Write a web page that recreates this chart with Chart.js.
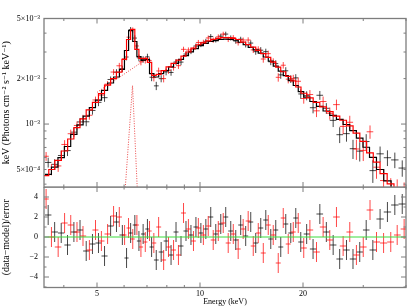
<!DOCTYPE html>
<html><head><meta charset="utf-8"><title>Spectrum</title>
<script src="https://cdn.jsdelivr.net/npm/chart.js@4.4.1/dist/chart.umd.min.js"></script>
<style>
html,body{margin:0;padding:0;background:#fff;overflow:hidden;}
#wrap{position:relative;width:407px;height:308px;background:#fff;}
canvas{position:absolute;left:0;}
#cTop{top:0;}
#cBot{top:187px;}
</style></head><body>
<div id="wrap">
<canvas id="cTop" width="407" height="188"></canvas>
<canvas id="cBot" width="407" height="121"></canvas>
</div>
<script>
// ---- data (keV bin centres, model, fractional 1-sigma error, residual in sigma) ----
const energyBlack = [3.60,3.76,3.93,4.10,4.28,4.46,4.65,4.85,5.05,5.26,5.48,5.70,5.93,6.10,6.27,6.45,6.63,6.82,7.02,7.22,7.45,7.70,7.96,8.23,8.51,8.80,9.10,9.41,9.73,10.06,10.40,10.75,11.12,11.50,11.89,12.30,12.72,13.15,13.60,14.07,14.55,15.05,15.57,16.10,16.65,17.22,17.81,18.42,19.05,19.70,20.5,21.4,22.4,23.4,24.5,25.6,26.8,28.0,29.3,30.6,32.0,33.6,35.3,37.1,39.0];
const modelBlack = [4.65e-4,5.19e-4,6.00e-4,7.10e-4,8.54e-4,9.88e-4,1.13e-3,1.285e-3,1.44e-3,1.67e-3,1.87e-3,2.05e-3,2.30e-3,3.07e-3,4.16e-3,3.52e-3,2.80e-3,2.64e-3,2.68e-3,2.16e-3,2.05e-3,2.16e-3,2.26e-3,2.39e-3,2.52e-3,2.68e-3,2.84e-3,3.00e-3,3.16e-3,3.31e-3,3.42e-3,3.52e-3,3.57e-3,3.63e-3,3.65e-3,3.63e-3,3.59e-3,3.48e-3,3.35e-3,3.22e-3,3.10e-3,2.95e-3,2.78e-3,2.61e-3,2.42e-3,2.24e-3,2.09e-3,1.94e-3,1.80e-3,1.64e-3,1.51e-3,1.41e-3,1.31e-3,1.22e-3,1.14e-3,1.075e-3,9.93e-4,9.06e-4,8.07e-4,7.02e-4,6.01e-4,5.0e-4,4.20e-4,3.60e-4,3.02e-4];
const fracErrBlack = [0.09,0.085,0.08,0.075,0.07,0.065,0.06,0.06,0.055,0.055,0.05,0.05,0.05,0.045,0.04,0.045,0.05,0.05,0.05,0.055,0.055,0.05,0.05,0.045,0.045,0.045,0.04,0.04,0.04,0.04,0.04,0.04,0.04,0.04,0.04,0.04,0.04,0.04,0.045,0.045,0.045,0.05,0.05,0.05,0.055,0.055,0.06,0.06,0.065,0.07,0.07,0.075,0.08,0.085,0.09,0.095,0.10,0.11,0.12,0.13,0.14,0.15,0.17,0.19,0.21];
const residBlack = [2.2,0.5,0.4,-0.8,0.5,0.7,-1.4,-0.7,-0.6,-1.9,1.1,1.5,0.2,-2.1,0.4,1.2,-0.4,0.3,0.8,-1.0,-2.3,-1.5,-0.4,-1.8,0.5,-0.9,0.6,0.2,1.0,0.4,0.8,2.0,0.3,1.3,2.0,0.6,-0.3,1.2,0.1,1.5,-0.6,0.9,1.7,-0.2,0.7,-1.0,1.3,0.4,1.9,-0.5,0.3,-1.2,2.3,0.5,-0.8,-2.2,-1.3,-2.2,-1.5,0.7,-1.3,1.8,2.5,3.2,3.3];

const energyRed = [3.55,3.68,3.85,4.02,4.19,4.37,4.55,4.75,4.95,5.15,5.37,5.59,5.81,6.02,6.18,6.36,6.54,6.72,6.92,7.12,7.33,7.57,7.83,8.09,8.37,8.65,8.95,9.25,9.57,9.89,10.23,10.57,10.93,11.31,11.69,12.09,12.51,12.93,13.37,13.83,14.31,14.80,15.31,15.83,16.37,16.93,17.51,18.11,18.73,19.37,20.1,20.95,21.9,22.9,23.95,25.05,26.2,27.4,28.65,30.0,31.4,32.8,34.4,36.1,37.7,39.5];
const modelRed = [4.56e-4,5.0e-4,5.74e-4,6.63e-4,7.96e-4,9.48e-4,1.08e-3,1.24e-3,1.39e-3,1.59e-3,1.81e-3,2.00e-3,2.21e-3,2.68e-3,3.63e-3,4.23e-3,3.12e-3,2.72e-3,2.72e-3,2.56e-3,2.10e-3,2.13e-3,2.26e-3,2.39e-3,2.52e-3,2.65e-3,2.82e-3,3.00e-3,3.18e-3,3.35e-3,3.45e-3,3.56e-3,3.64e-3,3.69e-3,3.73e-3,3.73e-3,3.69e-3,3.63e-3,3.49e-3,3.36e-3,3.23e-3,3.08e-3,2.93e-3,2.76e-3,2.57e-3,2.38e-3,2.22e-3,2.07e-3,1.93e-3,1.76e-3,1.60e-3,1.49e-3,1.39e-3,1.30e-3,1.21e-3,1.13e-3,1.06e-3,9.74e-4,8.72e-4,7.69e-4,6.45e-4,5.60e-4,4.69e-4,4.02e-4,3.47e-4,2.94e-4];
const fracErrRed = [0.09,0.085,0.08,0.075,0.07,0.065,0.06,0.06,0.055,0.055,0.05,0.05,0.05,0.045,0.04,0.04,0.045,0.05,0.05,0.05,0.055,0.055,0.05,0.05,0.045,0.045,0.045,0.04,0.04,0.04,0.04,0.04,0.04,0.04,0.04,0.04,0.04,0.04,0.04,0.045,0.045,0.045,0.05,0.05,0.05,0.055,0.055,0.06,0.065,0.065,0.07,0.075,0.08,0.085,0.09,0.095,0.10,0.11,0.12,0.13,0.14,0.15,0.165,0.18,0.20,0.22];
const residRed = [3.8,0.0,-1.0,1.4,1.2,0.5,0.1,-1.3,0.7,-0.4,0.3,2.1,2.0,0.2,0.9,-0.2,1.2,-1.0,-0.5,0.6,-0.6,1.0,-2.3,-1.0,-1.3,-1.8,2.4,0.8,-0.4,0.9,0.2,1.1,-0.3,0.6,1.4,-0.6,0.3,-1.2,0.8,1.6,-0.9,0.4,-1.6,1.2,0.2,-2.6,1.9,-0.7,0.5,1.4,-1.1,0.7,-1.5,1.0,-0.3,2.0,-0.9,0.5,-1.8,-1.0,2.7,-0.5,-0.6,-0.5,0.2,0.8];

// model components (dotted)
const gaussEnergy = [5.97,6.35,6.61];
const gaussValue = [2.5e-4,1.8e-3,2.5e-4];
const contEnergy = [5.0,5.5,6.0,6.5,7.0];
const contValue = [1.62e-3,1.88e-3,2.14e-3,2.42e-3,2.72e-3];

// axes / ticks
const xRange = [3.5, 40];
const yTopRange = [3.83e-4, 5e-3];
const yBotRange = [-5.05, 5.0];
const xLabelTicks = [5, 10, 20];
const xAllTicks = [4, 5, 6, 7, 8, 9, 10, 20, 30, 40];
const yTopLabelTicks = [5e-4, 1e-3, 2e-3, 5e-3];
const yTopLabelText = ['5×10⁻⁴', '10⁻³', '2×10⁻³', '5×10⁻³'];
const yTopAllTicks = [4e-4, 5e-4, 6e-4, 7e-4, 8e-4, 9e-4, 1e-3, 2e-3, 3e-3, 4e-3, 5e-3];
const yTopMajor = [1e-3];
const yBotLabelTicks = [-4, -2, 0, 2, 4];
const yBotAllTicks = [-5, -4, -3, -2, -1, 0, 1, 2, 3, 4, 5];

// ---- helpers ----
const FONT = "'Liberation Serif','DejaVu Serif',serif";
Chart.defaults.font.family = FONT;
Chart.defaults.color = '#000';

function binEdges(c) {
  const n = c.length, e = [c[0] * Math.sqrt(c[0] / c[1])];
  for (let i = 1; i < n; i++) e.push(Math.sqrt(c[i - 1] * c[i]));
  e.push(c[n - 1] * Math.sqrt(c[n - 1] / c[n - 2]));
  return e;
}
function crossSegments(c, e, y, lo, hi) {
  const p = [];
  for (let i = 0; i < c.length; i++) {
    p.push({x: e[i], y: y[i]}, {x: e[i + 1], y: y[i]}, {x: c[i], y: null},
           {x: c[i], y: lo[i]}, {x: c[i], y: hi[i]}, {x: c[i], y: null});
  }
  return p;
}
function stepPoints(e, v) {
  const p = v.map((y, i) => ({x: e[i], y}));
  p.push({x: e[e.length - 1], y: v[v.length - 1]});
  return p;
}
function pairs(xs, ys) { return xs.map((x, i) => ({x, y: ys[i]})); }

const edgesBlack = binEdges(energyBlack), edgesRed = binEdges(energyRed);
const sigBlack = modelBlack.map((m, i) => m * fracErrBlack[i]);
const sigRed = modelRed.map((m, i) => m * fracErrRed[i]);
const dataBlack = modelBlack.map((m, i) => m + residBlack[i] * sigBlack[i]);
const dataRed = modelRed.map((m, i) => m + residRed[i] * sigRed[i]);

const framePlugin = {
  id: 'frame',
  afterDatasetsDraw(chart, args, o) {
    const {ctx, chartArea: a, scales: {x, y}} = chart;
    ctx.save();
    ctx.strokeStyle = o.color;
    ctx.lineWidth = 1;
    ctx.beginPath();
    for (const v of o.xt) {
      const len = o.xm.includes(v) ? 5 : 2.5;
      const p = x.getPixelForValue(v);
      ctx.moveTo(p, a.bottom); ctx.lineTo(p, a.bottom - len);
      ctx.moveTo(p, a.top); ctx.lineTo(p, a.top + len);
    }
    for (const v of o.yt) {
      const len = o.ym.includes(v) ? 5 : 2.5;
      const p = y.getPixelForValue(v);
      ctx.moveTo(a.left, p); ctx.lineTo(a.left + len, p);
      ctx.moveTo(a.right, p); ctx.lineTo(a.right - len, p);
    }
    ctx.stroke();
    ctx.lineWidth = 1.3;
    ctx.strokeRect(a.left, a.top, a.right - a.left, a.bottom - a.top);
    ctx.restore();
  }
};

const L = {type: 'line', pointRadius: 0, pointHoverRadius: 0, spanGaps: false, fill: false, tension: 0};
const frameColor = '#7d7d7d';
const blackBar = 'rgba(0,0,0,0.72)';
const redBar = 'rgba(255,0,0,0.72)';

new Chart(document.getElementById('cTop'), {
  type: 'line',
  data: {datasets: [
    {...L, data: pairs(gaussEnergy, gaussValue), borderColor: 'rgba(230,40,40,0.85)', borderWidth: 1, borderDash: [1, 1.5]},
    {...L, data: pairs(contEnergy, contValue), borderColor: 'rgba(230,40,40,0.85)', borderWidth: 1, borderDash: [1, 1.5]},
    {...L, data: stepPoints(edgesRed, modelRed), borderColor: '#ff0000', borderWidth: 1.2, stepped: 'before'},
    {...L, data: stepPoints(edgesBlack, modelBlack), borderColor: '#000000', borderWidth: 1.2, stepped: 'before'},
    {...L, data: crossSegments(energyRed, edgesRed, dataRed, dataRed.map((d, i) => d - sigRed[i]), dataRed.map((d, i) => d + sigRed[i])), borderColor: redBar, borderWidth: 1},
    {...L, data: crossSegments(energyBlack, edgesBlack, dataBlack, dataBlack.map((d, i) => d - sigBlack[i]), dataBlack.map((d, i) => d + sigBlack[i])), borderColor: blackBar, borderWidth: 1}
  ]},
  options: {
    animation: false, responsive: false, devicePixelRatio: 1,
    layout: {padding: {top: 18.5, right: 1, bottom: 1, left: 0}},
    plugins: {legend: {display: false}, tooltip: {enabled: false},
      frame: {color: frameColor, xt: xAllTicks, xm: xLabelTicks, yt: yTopAllTicks, ym: yTopMajor}},
    scales: {
      x: {type: 'logarithmic', min: xRange[0], max: xRange[1], display: false},
      y: {type: 'logarithmic', min: yTopRange[0], max: yTopRange[1], position: 'left',
        afterBuildTicks: s => { s.ticks = yTopLabelTicks.map(v => ({value: v})); },
        afterFit: s => { s.width = 44; s.paddingTop = 0; s.paddingBottom = 0; },
        grid: {display: false, drawTicks: false}, border: {display: false},
        ticks: {callback: (v, i) => yTopLabelText[i], font: {size: 8}, color: '#000', padding: 4, autoSkip: false},
        title: {display: true, text: 'keV (Photons cm⁻² s⁻¹ keV⁻¹)', font: {size: 10}, color: '#000', padding: {top: 0, bottom: 0}}
      }
    }
  },
  plugins: [framePlugin]
});

new Chart(document.getElementById('cBot'), {
  type: 'line',
  data: {datasets: [
    {...L, data: [{x: xRange[0], y: 0}, {x: xRange[1], y: 0}], borderColor: '#3ddc3d', borderWidth: 1},
    {...L, data: crossSegments(energyRed, edgesRed, residRed, residRed.map(r => r - 1), residRed.map(r => r + 1)), borderColor: redBar, borderWidth: 1},
    {...L, data: crossSegments(energyBlack, edgesBlack, residBlack, residBlack.map(r => r - 1), residBlack.map(r => r + 1)), borderColor: blackBar, borderWidth: 1}
  ]},
  options: {
    animation: false, responsive: false, devicePixelRatio: 1,
    layout: {padding: {top: 0, right: 1, bottom: 0, left: 0}},
    plugins: {legend: {display: false}, tooltip: {enabled: false},
      frame: {color: frameColor, xt: xAllTicks, xm: xLabelTicks, yt: yBotAllTicks, ym: yBotLabelTicks}},
    scales: {
      x: {type: 'logarithmic', min: xRange[0], max: xRange[1], position: 'bottom',
        afterBuildTicks: s => { s.ticks = xLabelTicks.map(v => ({value: v})); },
        afterFit: s => { s.height = 20.5; s.paddingLeft = 0; s.paddingRight = 0; },
        grid: {display: false, drawTicks: false}, border: {display: false},
        ticks: {callback: v => String(v), font: {size: 8}, color: '#000', padding: 2, maxRotation: 0, autoSkip: false},
        title: {display: true, text: 'Energy (keV)', font: {size: 8}, color: '#000', padding: {top: 0, bottom: 1}}
      },
      y: {type: 'linear', min: yBotRange[0], max: yBotRange[1], position: 'left',
        afterBuildTicks: s => { s.ticks = yBotLabelTicks.map(v => ({value: v})); },
        afterFit: s => { s.width = 44; s.paddingTop = 0; s.paddingBottom = 0; },
        grid: {display: false, drawTicks: false}, border: {display: false},
        ticks: {callback: v => (v < 0 ? '−' + Math.abs(v) : String(v)), font: {size: 8}, color: '#000', padding: 6, autoSkip: false},
        title: {display: true, text: '(data−model)/error', font: {size: 10}, color: '#000', padding: {top: 0, bottom: 0}}
      }
    }
  },
  plugins: [framePlugin]
});
</script>
</body></html>
